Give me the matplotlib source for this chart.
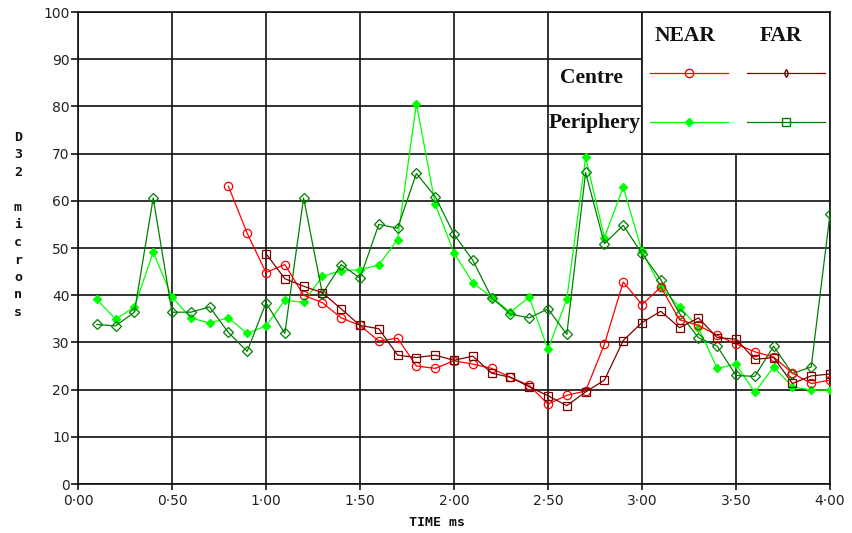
import matplotlib.pyplot as plt
from matplotlib.lines import Line2D
from matplotlib.patches import Rectangle

# time (ms) and D32 (microns)
t_full = [0.1, 0.2, 0.3, 0.4, 0.5, 0.6, 0.7, 0.8, 0.9, 1.0,
          1.1, 1.2, 1.3, 1.4, 1.5, 1.6, 1.7, 1.8, 1.9, 2.0,
          2.1, 2.2, 2.3, 2.4, 2.5, 2.6, 2.7, 2.8, 2.9, 3.0,
          3.1, 3.2, 3.3, 3.4, 3.5, 3.6, 3.7, 3.8, 3.9, 4.0]

periph_near = [39.1, 34.9, 37.5, 49.1, 39.6, 35.2, 34.1, 35.2, 31.9, 33.5,
               38.9, 38.5, 44.0, 45.2, 45.4, 46.4, 51.8, 80.6, 59.3, 49.0,
               42.6, 39.6, 36.4, 39.6, 28.5, 39.2, 69.2, 52.2, 62.9, 49.3,
               41.7, 37.5, 33.1, 24.5, 25.4, 19.4, 24.8, 20.6, 19.9, 19.9]

periph_far = [33.8, 33.5, 36.4, 60.6, 36.4, 36.4, 37.5, 32.1, 28.1, 38.4,
              31.9, 60.6, 40.3, 46.5, 43.6, 55.0, 54.2, 65.8, 60.9, 52.9,
              47.4, 39.5, 36.0, 35.2, 37.1, 31.7, 66.0, 50.9, 54.8, 48.8,
              43.3, 36.1, 31.0, 29.2, 23.0, 22.8, 29.2, 23.4, 24.8, 57.2]

t_centre_near = [0.8, 0.9, 1.0, 1.1, 1.2, 1.3, 1.4, 1.5, 1.6, 1.7,
                 1.8, 1.9, 2.0, 2.1, 2.2, 2.3, 2.4, 2.5, 2.6, 2.7,
                 2.8, 2.9, 3.0, 3.1, 3.2, 3.3, 3.4, 3.5, 3.6, 3.7,
                 3.8, 3.9, 4.0]
centre_near = [63.1, 53.1, 44.8, 46.5, 40.0, 38.4, 35.2, 33.6, 30.3, 30.9,
               25.0, 24.5, 26.1, 25.4, 24.5, 22.6, 20.9, 16.9, 18.8, 19.7,
               29.6, 42.8, 38.0, 41.7, 34.8, 33.6, 31.5, 29.7, 28.0, 26.9,
               23.5, 21.3, 22.0]

t_centre_far = [1.0, 1.1, 1.2, 1.3, 1.4, 1.5, 1.6, 1.7, 1.8, 1.9,
                2.0, 2.1, 2.2, 2.3, 2.4, 2.5, 2.6, 2.7, 2.8, 2.9,
                3.0, 3.1, 3.2, 3.3, 3.4, 3.5, 3.6, 3.7, 3.8, 3.9, 4.0]
centre_far = [48.8, 43.5, 41.9, 40.5, 37.1, 33.6, 32.9, 27.3, 26.8, 27.3,
              26.2, 27.1, 23.5, 22.6, 20.6, 18.7, 16.6, 19.5, 22.0, 30.4,
              34.2, 36.6, 33.1, 35.2, 31.0, 30.7, 26.4, 26.8, 21.3, 22.9, 23.3]

x_ticks = [0, 0.5, 1.0, 1.5, 2.0, 2.5, 3.0, 3.5, 4.0]
x_labels = ["0\u00b700", "0\u00b750", "1\u00b700", "1\u00b750", "2\u00b700",
            "2\u00b750", "3\u00b700", "3\u00b750", "4\u00b700"]
y_ticks = list(range(0, 101, 10))

RED = "#ff0000"
MAROON = "#800000"
LIME = "#00ff00"
GREEN = "#008000"
INK = "#111111"

fig = plt.figure(figsize=(8.52, 5.33), dpi=100)
ax = fig.add_axes([78 / 852, 49 / 533, 752 / 852, 472 / 533])

ax.plot(t_full, periph_near, color=LIME, lw=0.9, marker="D", ms=4.5,
        mfc=LIME, mec=LIME, zorder=3)
ax.plot(t_full, periph_far, color=GREEN, lw=0.9, marker="D", ms=5,
        mfc="none", mec=GREEN, mew=0.9, zorder=3)
ax.plot(t_centre_near, centre_near, color=RED, lw=0.9, marker="o", ms=6,
        mfc="none", mec=RED, mew=0.9, zorder=4)
ax.plot(t_centre_far, centre_far, color=MAROON, lw=0.9, marker="s", ms=5.5,
        mfc="none", mec=MAROON, mew=0.9, zorder=4)

ax.set_xlim(0, 4)
ax.set_ylim(0, 100)
ax.set_xticks(x_ticks)
ax.set_xticklabels(x_labels)
ax.set_yticks(y_ticks)
ax.set_axisbelow(True)
ax.grid(True, color=INK, lw=1.2)
for s in ax.spines.values():
    s.set_color(INK)
    s.set_linewidth(1.2)
ax.tick_params(axis="y", length=5, width=1.2, color=INK, pad=1,
               labelsize=10, labelcolor="#222222")
ax.tick_params(axis="x", length=4, width=1.2, color=INK, pad=3,
               labelsize=10, labelcolor="#222222")

# legend panel
ax.add_patch(Rectangle((3.0, 70), 1.0, 30, facecolor="white",
                       edgecolor=INK, lw=1.2, zorder=1))
handles = [
    Line2D([], [], color=RED, lw=0.9, marker="o", ms=6, mfc="none", mec=RED),
    Line2D([], [], color=LIME, lw=0.9, marker="D", ms=4, mfc=LIME, mec=LIME),
    Line2D([], [], color=MAROON, lw=0.9, marker="d", ms=4, mfc="none", mec=MAROON),
    Line2D([], [], color=GREEN, lw=0.9, marker="s", ms=5.5, mfc="none", mec=GREEN),
]
leg = ax.legend(handles, ["", "", "", ""], ncol=2, frameon=False,
                loc="upper left", bbox_to_anchor=(0.761, 0.884),
                handlelength=5.6, handletextpad=0, columnspacing=1.4,
                labelspacing=2.5, borderpad=0, borderaxespad=0, fontsize=10)
leg.set_zorder(5)

serif = dict(family="Liberation Serif", fontweight="bold", fontsize=15.5,
             color=INK, va="center", ha="center")
ax.text(3.23, 95.0, "NEAR", **serif)
ax.text(3.74, 95.0, "FAR", **serif)
ax.text(2.73, 86.0, "Centre", **serif)
ax.text(2.75, 76.5, "Periphery", **serif)

mono = dict(family="DejaVu Sans Mono", fontweight="bold", fontsize=9.5,
            color=INK)
fig.text(18 / 852, (533 - 225) / 533, "D\n3\n2\n\nm\ni\nc\nr\no\nn\ns",
         ha="center", va="center", linespacing=1.45, **mono)
fig.text(437 / 852, (533 - 523) / 533, "TIME ms", ha="center",
         va="center", **mono)

plt.savefig("out.png", dpi=100)
plt.close()
